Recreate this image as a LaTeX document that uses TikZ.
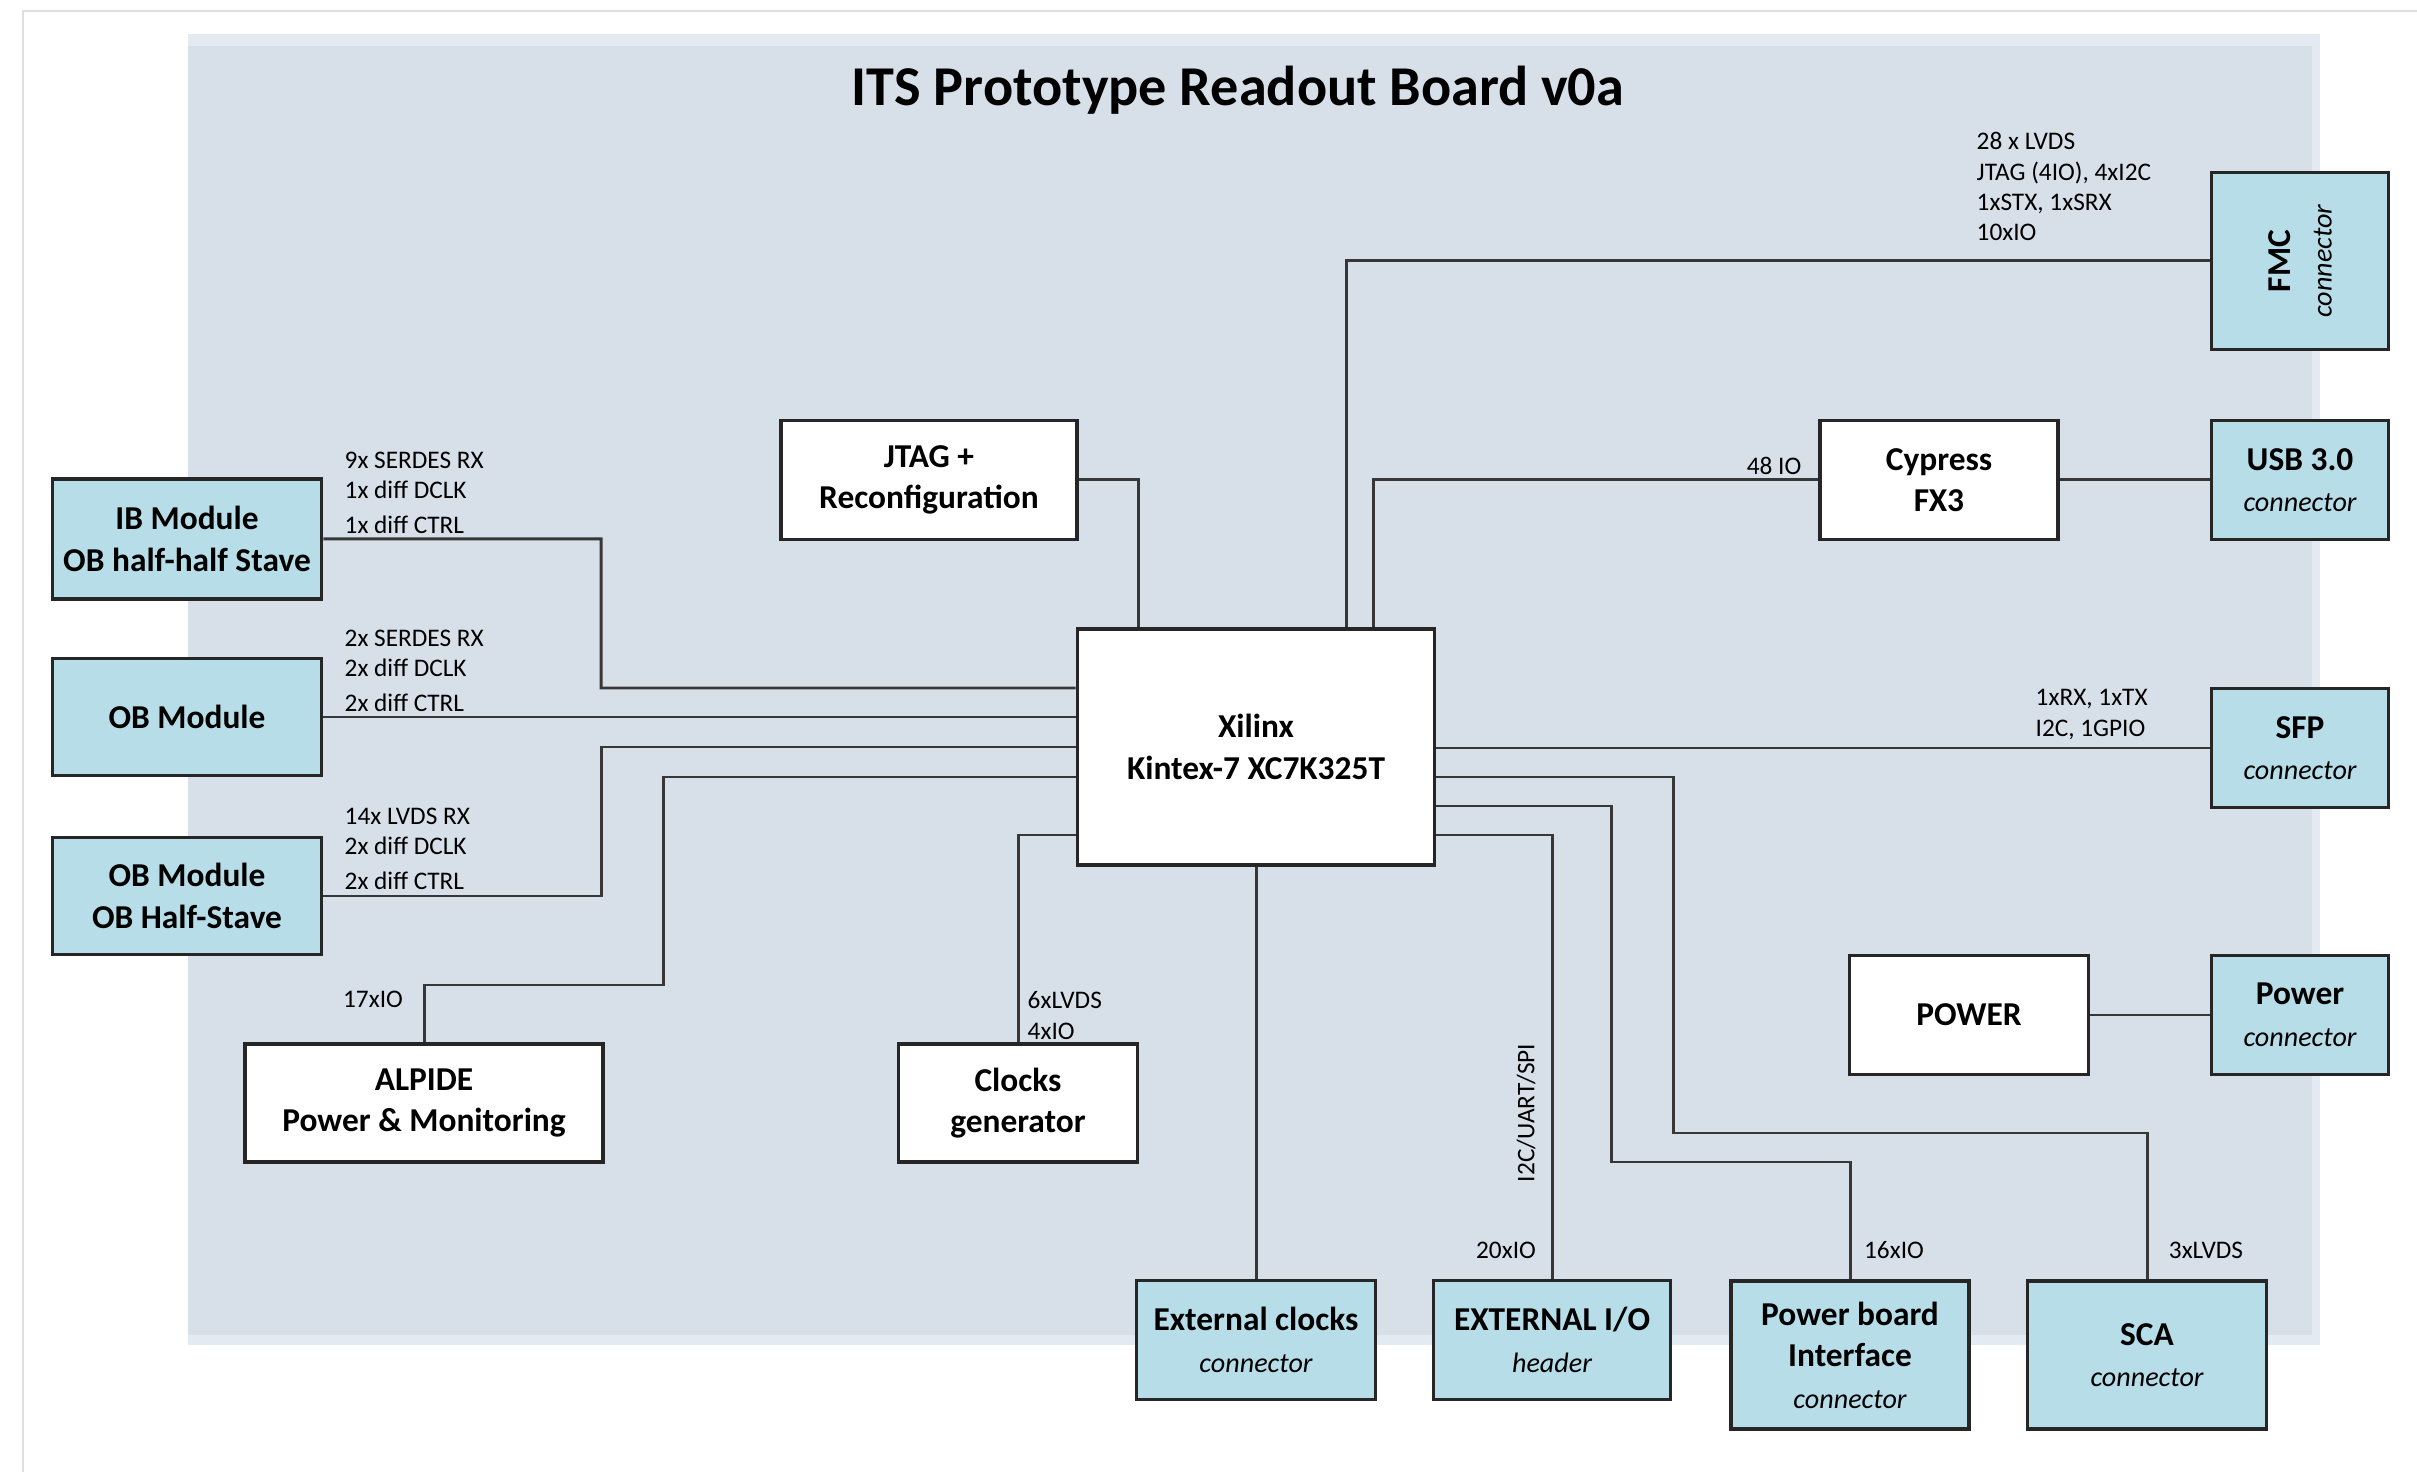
\documentclass[tikz,border=0pt]{standalone}
\usepackage{fontspec}
\setmainfont{Carlito}
\usepackage{tikz}
\usetikzlibrary{positioning}
\definecolor{BoardGray}{RGB}{215,224,233}
\definecolor{BoardEdge}{RGB}{227,234,241}
\definecolor{ConnBlue}{RGB}{183,221,232}
\definecolor{WireGray}{RGB}{55,55,55}
\newcommand{\subtxt}[1]{{\fontsize{8}{11.8}\selectfont\mdseries\itshape #1}}

\begin{document}
\begin{tikzpicture}[
    blk/.style={draw=black!85, line width=1.1pt, fill=white, align=center, inner sep=0pt,
      font=\fontsize{9.5}{11.8}\selectfont\bfseries},
    conn/.style={blk, fill=ConnBlue},
    wire/.style={draw=WireGray, line width=0.85pt},
    sig/.style={font=\fontsize{7.2}{8.6}\selectfont, inner sep=0pt, align=left},
  ]
    \useasboundingbox (0,0) rectangle (24.17,14.72);

    % Page frame and board area
    \draw[gray!25, line width=0.6pt] (0.23,0) -- (0.23,14.61) -- (24.17,14.61);
    \fill[BoardEdge] (1.88,1.27) rectangle (23.20,14.38);
    \fill[BoardGray] (1.88,1.37) rectangle (23.12,14.26);
    \node[font=\fontsize{16}{19}\selectfont\bfseries] (title) at (12.38,13.82) {ITS Prototype Readout Board v0a};

    % FPGA and on-board blocks
    \node[blk, minimum width=3.57cm, minimum height=2.36cm] (fpga) at (12.56,7.25) {Xilinx\\Kintex-7 XC7K325T};
    \node[blk, minimum width=2.96cm, minimum height=1.19cm] (jtag) at (9.29,9.92) {JTAG +\\Reconfiguration};
    \node[blk, minimum width=2.38cm, minimum height=1.19cm] (fx3) at (19.39,9.92) {Cypress\\FX3};
    \node[blk, minimum width=2.39cm, minimum height=1.19cm] (power) at (19.69,4.57) {POWER};
    \node[blk, minimum width=3.58cm, minimum height=1.18cm] (alpide) at (4.24,3.69) {ALPIDE\\Power \& Monitoring};
    \node[blk, minimum width=2.39cm, minimum height=1.18cm] (clkgen) at (10.18,3.69) {Clocks\\generator};

    % Right connectors
    \node[conn, minimum width=1.77cm, minimum height=1.77cm] (fmc) at (23.00,12.11) {};
    \node[rotate=90, align=center, font=\fontsize{9.5}{11.8}\selectfont\bfseries] (fmctxt) at (fmc.center) {FMC\\\subtxt{connector}};
    \node[conn, minimum width=1.77cm, minimum height=1.19cm] (usb) at (23.00,9.92) {USB 3.0\\\subtxt{connector}};
    \node[conn, minimum width=1.77cm, minimum height=1.19cm] (sfp) at (23.00,7.24) {SFP\\\subtxt{connector}};
    \node[conn, minimum width=1.77cm, minimum height=1.19cm] (pwrc) at (23.00,4.57) {Power\\\subtxt{connector}};

    % Detector modules
    \node[conn, minimum width=2.69cm, minimum height=1.20cm] (ib) at (1.87,9.33) {IB Module\\OB half-half Stave};
    \node[conn, minimum width=2.69cm, minimum height=1.17cm] (ob) at (1.87,7.55) {OB Module};
    \node[conn, minimum width=2.69cm, minimum height=1.17cm] (obhs) at (1.87,5.76) {OB Module\\OB Half-Stave};

    % Bottom connectors
    \node[conn, minimum width=2.39cm, minimum height=1.19cm] (extclk) at (12.56,1.32) {External clocks\\\subtxt{connector}};
    \node[conn, minimum width=2.37cm, minimum height=1.19cm] (extio) at (15.52,1.32) {EXTERNAL I/O\\\subtxt{header}};
    \node[conn, minimum width=2.38cm, minimum height=1.48cm] (pbi) at (18.50,1.17) {Power board\\Interface\\\subtxt{connector}};
    \node[conn, minimum width=2.39cm, minimum height=1.48cm] (sca) at (21.47,1.17) {SCA\\\subtxt{connector}};

    % Wires
    \draw[wire] ([xshift=9mm]fpga.north) |- (fmc.west);
    \draw[wire] ([xshift=11.7mm]fpga.north) |- (fx3.west);
    \draw[wire] (fx3.east) -- (usb.west);
    \draw[wire] (jtag.east) -| ([xshift=-11.8mm]fpga.north);
    \draw[wire] (ib.east) -| (6.01,7.84) -- ([yshift=5.9mm]fpga.west);
    \draw[wire] (ob.east) -- (ob.east -| fpga.west);
    \draw[wire] (obhs.east) -| (6.01,7.25) -- (fpga.west);
    \draw[wire] (alpide.north) |- (6.63,4.87) |- ([yshift=-3mm]fpga.west);
    \draw[wire] (clkgen.north) |- ([yshift=-8.8mm]fpga.west);
    \draw[wire] (fpga.south) -- (extclk.north);
    \draw[wire] (fpga.east |- sfp.west) -- (sfp.west);
    \draw[wire] ([yshift=-3mm]fpga.east) -| (16.73,3.39) -| (sca.north);
    \draw[wire] ([yshift=-5.9mm]fpga.east) -| (16.11,3.10) -| (pbi.north);
    \draw[wire] ([yshift=-8.8mm]fpga.east) -| (extio.north);
    \draw[wire] (power.east) -- (pwrc.west);

    % Signal counts
    \node[sig, anchor=north west] (fmcsig) at (19.76,13.40) {28 x LVDS\\JTAG (4IO), 4xI2C\\1xSTX, 1xSRX\\10xIO};
    \node[sig] (fx3sig) at (17.74,10.06) {48 IO};
    \node[sig, anchor=north west] (ibsig) at (3.44,10.21) {9x SERDES RX\\1x diff DCLK\\[1.4pt]1x diff CTRL};
    \node[sig, anchor=north west] (obsig) at (3.44,8.43) {2x SERDES RX\\2x diff DCLK\\[1.4pt]2x diff CTRL};
    \node[sig, anchor=north west] (obhssig) at (3.44,6.65) {14x LVDS RX\\2x diff DCLK\\[1.4pt]2x diff CTRL};
    \node[sig] (alpsig) at (3.73,4.73) {17xIO};
    \node[sig, anchor=north west] (clksig) at (10.27,4.81) {6xLVDS\\4xIO};
    \node[sig, anchor=north west] (sfpsig) at (20.35,7.83) {1xRX, 1xTX\\I2C, 1GPIO};
    \node[sig, rotate=90] (iosig) at (15.26,3.59) {I2C/UART/SPI};
    \node[sig] (extiosig) at (15.06,2.22) {20xIO};
    \node[sig] (pbisig) at (18.94,2.22) {16xIO};
    \node[sig] (scasig) at (22.06,2.22) {3xLVDS};
  \end{tikzpicture}
\end{document}
